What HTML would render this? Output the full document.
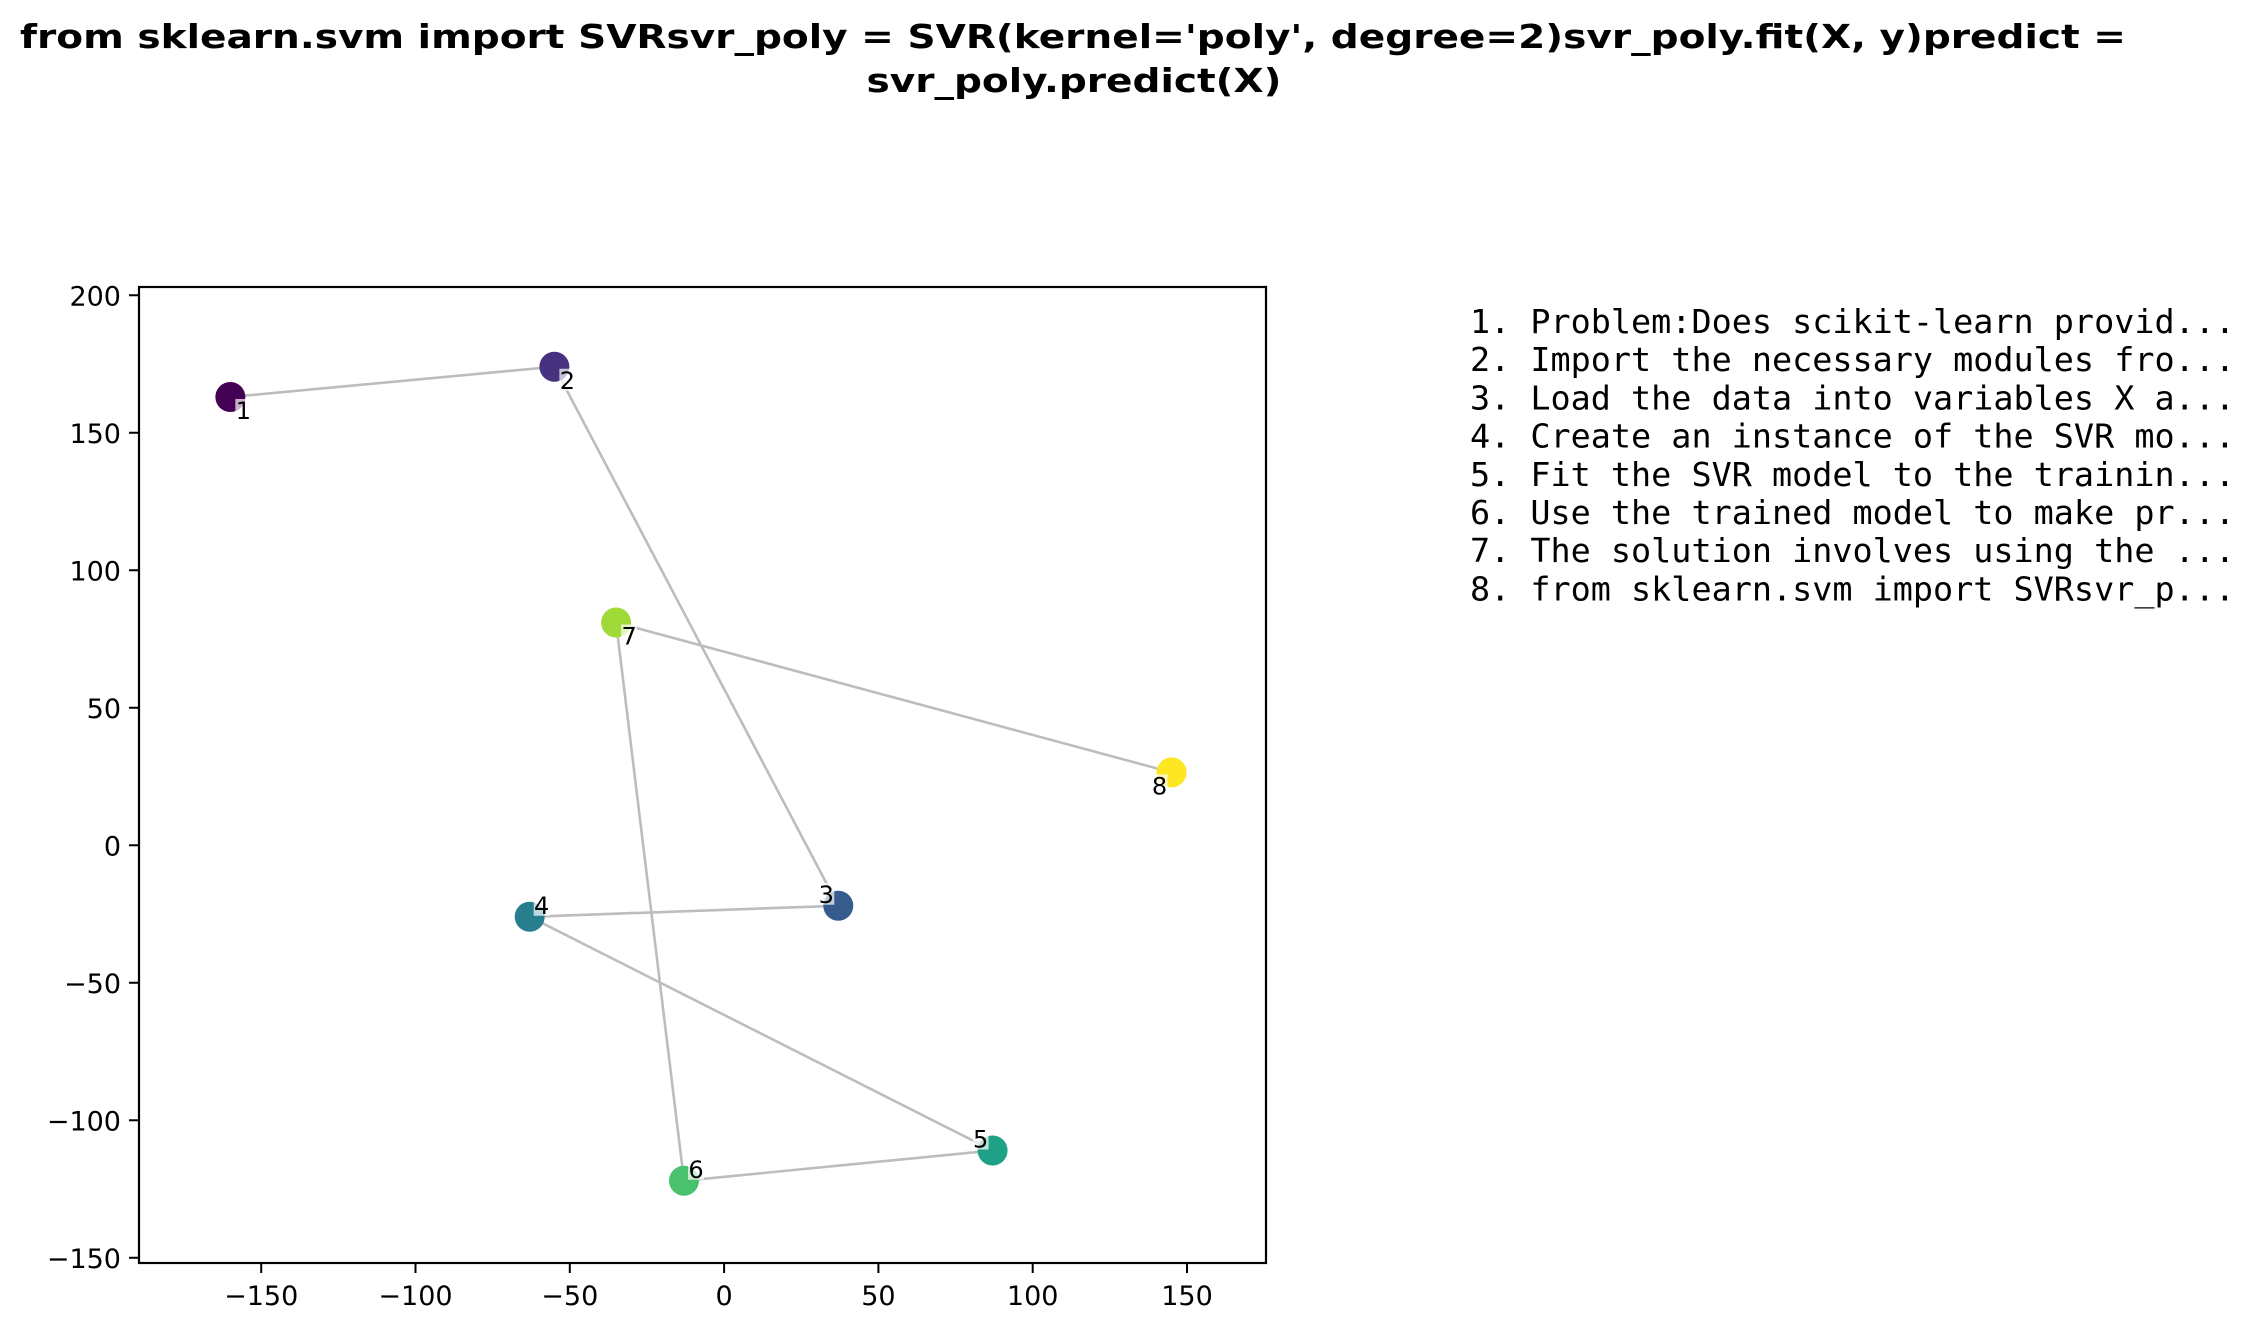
<!DOCTYPE html>
<html><head><meta charset="utf-8"><style>
html,body{margin:0;padding:0;background:#fff;}
svg{display:block;}
text{font-family:"DejaVu Sans","Liberation Sans",sans-serif;}
text.mono{font-family:"DejaVu Sans Mono","Liberation Mono",monospace;}
</style></head><body>
<svg id="chart" width="2251" height="1330" viewBox="0 0 2251 1330" xmlns="http://www.w3.org/2000/svg">
<text x="1073" y="48" text-anchor="middle" font-size="33" font-weight="bold" textLength="2106" lengthAdjust="spacingAndGlyphs">from sklearn.svm import SVRsvr_poly = SVR(kernel='poly', degree=2)svr_poly.fit(X, y)predict =</text>
<text x="1074" y="92" text-anchor="middle" font-size="33" font-weight="bold" textLength="415" lengthAdjust="spacingAndGlyphs">svr_poly.predict(X)</text>
<g id="plot"></g>
<g id="steps"></g>
</svg>
<script>
const labels = ['1','2','3','4','5','6','7','8'];
const xs = [-160, -55, 37, -63, 87, -13, -35, 145];
const ys = [163, 174, -22, -26, -111, -122, 81, 26.5];
const colors = ['#440154','#46327e','#365c8d','#277f8e','#1fa187','#4ac16d','#a0da39','#fde725'];
const labelDx = [13,13,-12,12,-12,12,13,-12];
const labelDy = [13,13,-12,-12,-12,-12,13,13];
const xTicks = [-150,-100,-50,0,50,100,150];
const yTicks = [-150,-100,-50,0,50,100,150,200];
const steps = ['1. Problem:Does scikit-learn provid...','2. Import the necessary modules fro...','3. Load the data into variables X a...','4. Create an instance of the SVR mo...','5. Fit the SVR model to the trainin...','6. Use the trained model to make pr...','7. The solution involves using the ...','8. from sklearn.svm import SVRsvr_p...'];

const NS='http://www.w3.org/2000/svg';
const L=139,R=1266,T=287,B=1263;
const xMin=-189.6,xMax=175.6,yMin=-151.9,yMax=203;
function sx(v){return L+(v-xMin)/(xMax-xMin)*(R-L);}
function sy(v){return B-(v-yMin)/(yMax-yMin)*(B-T);}
function mk(tag,attrs,parent){const e=document.createElementNS(NS,tag);for(const k in attrs)e.setAttribute(k,attrs[k]);parent.appendChild(e);return e;}
const plot=document.getElementById('plot');
let d='';
for(let i=0;i<xs.length;i++){d+=(i?'L':'M')+sx(xs[i])+' '+sy(ys[i]);}
const path=mk('path',{d:d,fill:'none',stroke:'#bdbdbd','stroke-width':2.6},plot);


for(let i=0;i<xs.length;i++){
  const c=mk('circle',{cx:sx(xs[i]),cy:sy(ys[i]),r:15,fill:colors[i]},plot);
  
  
}
for(let i=0;i<xs.length;i++){
  const tx=sx(xs[i])+labelDx[i], ty=sy(ys[i])+labelDy[i];
  const bg=mk('rect',{x:tx-8,y:ty-11,width:16,height:22,fill:'#fff','fill-opacity':0.7},plot);
  
  
  const t=mk('text',{x:tx,y:ty+9,'text-anchor':'middle','font-size':24},plot);
  t.textContent=labels[i];
  
  
}
const frame=mk('rect',{x:L,y:T,width:R-L,height:B-T,fill:'none',stroke:'#000','stroke-width':2.2},plot);


xTicks.forEach(v=>{
  const x=sx(v);
  const tk=mk('line',{x1:x,y1:B,x2:x,y2:B+10,stroke:'#000','stroke-width':2},plot);
  
  
  const t=mk('text',{x:x,y:B+42,'text-anchor':'middle','font-size':27},plot);
  t.textContent=(v<0?'\u2212'+(-v):''+v);
  
  
});
yTicks.forEach(v=>{
  const y=sy(v);
  const tk=mk('line',{x1:L-10,y1:y,x2:L,y2:y,stroke:'#000','stroke-width':2},plot);
  
  
  const t=mk('text',{x:L-18,y:y+10,'text-anchor':'end','font-size':27},plot);
  t.textContent=(v<0?'\u2212'+(-v):''+v);
  
  
});
const sg=document.getElementById('steps');
steps.forEach((s,i)=>{
  const t=mk('text',{x:1470,y:333+i*38.2,'font-size':33,textLength:765,lengthAdjust:'spacingAndGlyphs','class':'mono'},sg);
  t.setAttribute('xml:space','preserve');
  t.textContent=s;
  
  
});
</script>
</body></html>
